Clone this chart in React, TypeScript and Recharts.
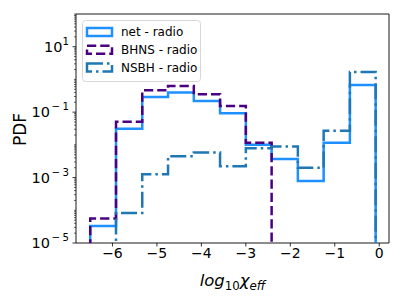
import { LineChart, Line, XAxis, YAxis, ReferenceArea } from "recharts";

// bin edges of the step histograms (log10 chi_eff)
const binEdges = [-6.5, -5.92, -5.33, -4.75, -4.17, -3.58, -3.0, -2.42, -1.83, -1.25, -0.66, -0.08];

// PDF per bin
const netRadio = [3.3e-5, 0.031, 0.29, 0.4, 0.22, 0.093, 0.01, 0.0037, 7.8e-4, 0.0115, 0.68];
const bhnsRadio = [5.6e-5, 0.051, 0.47, 0.63, 0.35, 0.155, 0.0115, 0, 0, 0, 0];
const nsbhRadio = [0, 8.3e-5, 0.00126, 0.0045, 0.0058, 0.0022, 0.0079, 0.0089, 0.002, 0.027, 1.7];

const xTicks = [-6, -5, -4, -3, -2, -1, 0];
const yMajor = [1e-5, 1e-3, 1e-1, 10];
const yMajorExp = ["5", "3", "1", "1"];
const yMajorNeg = [true, true, true, false];

const seriesNames = ["net - radio", "BHNS - radio", "NSBH - radio"];
const colors = ["#1E90FF", "#4B0082", "#1f77b4"];
const dashes = [undefined, "9.25 4", "16 4 2.5 4"];

const FONT = "DejaVu Sans, sans-serif";
const FLOOR = 1e-8; // empty bins sit below the axis and get clipped

const stepPoints = (values: number[]) => {
  const pts = [{ x: binEdges[0], y: FLOOR }];
  values.forEach((v, i) => pts.push({ x: binEdges[i], y: v > 0 ? v : FLOOR }));
  const last = values[values.length - 1];
  const end = binEdges[binEdges.length - 1];
  pts.push({ x: end, y: last > 0 ? last : FLOOR });
  pts.push({ x: end, y: FLOOR });
  return pts;
};

const series = [netRadio, bhnsRadio, nsbhRadio].map(stepPoints);

// minor log ticks 1..9 x 10^k
const yTicks: number[] = [];
for (let k = -5; k <= 1; k++) {
  for (let m = 1; m <= 9; m++) yTicks.push(m * Math.pow(10, k));
}
yTicks.push(100);

const YTick = (props: any) => {
  const { x, y, payload } = props;
  const v = payload.value;
  const idx = yMajor.findIndex((m) => Math.abs(Math.log10(m) - Math.log10(v)) < 1e-6);
  const major = idx >= 0;
  const len = major ? 3.5 : 2;
  return (
    <g>
      <line x1={x - len} x2={x} y1={y} y2={y} stroke="#000" strokeWidth={major ? 0.8 : 0.6} />
      {major && (
        <text x={x - 7} y={y + 5} textAnchor="end" fontFamily={FONT} fontSize={14.5} fill="#000">
          10
          {yMajorNeg[idx] ? (
            <>
              <tspan dy={-7} dx={1.5} fontSize={10.2}>
                −
              </tspan>
              <tspan dx={2.5} fontSize={10.2}>
                {yMajorExp[idx]}
              </tspan>
            </>
          ) : (
            <tspan dy={-7} fontSize={10.2}>
              {yMajorExp[idx]}
            </tspan>
          )}
        </text>
      )}
    </g>
  );
};

const LegendBox = () => (
  <svg width={120} height={63} style={{ position: "absolute", left: 82, top: 20 }}>
    <rect x={0.5} y={0.5} width={118} height={61} rx={3} fill="#fff" fillOpacity={0.8} stroke="#d6d6d6" />
    {seriesNames.map((name, i) => {
      const cy = 12 + i * 17.8;
      return (
        <g key={name}>
          <rect
            x={5}
            y={cy - 4}
            width={25}
            height={8}
            fill="none"
            stroke={colors[i]}
            strokeWidth={2.5}
            strokeDasharray={dashes[i]}
          />
          <text x={39} y={cy + 4.3} fontFamily={FONT} fontSize={12} fill="#000">
            {name}
          </text>
        </g>
      );
    })}
  </svg>
);

export default function App() {
  return (
    <div style={{ position: "relative", width: 403, height: 302, background: "#fff" }}>
      <style>{`body{margin:0}`}</style>
      <LineChart width={403} height={302} margin={{ top: 14, right: 14, left: 0, bottom: 0 }}>
        <XAxis
          dataKey="x"
          type="number"
          domain={[-6.82, 0.22]}
          allowDataOverflow
          ticks={xTicks}
          interval={0}
          height={59}
          axisLine={false}
          tickSize={3.5}
          tickMargin={2}
          tickLine={{ stroke: "#000", strokeWidth: 0.8 }}
          tick={{ fontFamily: FONT, fontSize: 14, fill: "#000" }}
          tickFormatter={(v: number) => (v < 0 ? "−" + Math.abs(v) : String(v))}
          label={{
            content: () => (
              <text x={232.5} y={286} textAnchor="middle" fontFamily={FONT} fontSize={16.5} fill="#000">
                <tspan fontStyle="italic">log</tspan>
                <tspan dy={4} fontSize={11.8}>
                  10
                </tspan>
                <tspan dy={-4} fontStyle="italic">
                  χ
                </tspan>
                <tspan dy={4} fontSize={11.8} fontStyle="italic">
                  eff
                </tspan>
              </text>
            ),
          }}
        />
        <YAxis
          dataKey="y"
          scale="log"
          domain={[1e-5, 100]}
          allowDataOverflow
          ticks={yTicks}
          interval={0}
          width={76}
          axisLine={false}
          tickLine={false}
          tickSize={0}
          tickMargin={0}
          tick={<YTick />}
          label={{
            content: () => (
              <text
                x={20}
                y={129.5}
                transform="rotate(-90 20 129.5)"
                textAnchor="middle"
                dominantBaseline="central"
                fontFamily={FONT}
                fontSize={17}
                fill="#000"
              >
                PDF
              </text>
            ),
          }}
        />
        {series.map((pts, i) => (
          <Line
            key={seriesNames[i]}
            data={pts}
            dataKey="y"
            type="stepAfter"
            stroke={colors[i]}
            strokeWidth={2.5}
            strokeDasharray={dashes[i]}
            dot={false}
            activeDot={false}
            isAnimationActive={false}
          />
        ))}
        <ReferenceArea
          x1={-6.82}
          x2={0.22}
          y1={1e-5}
          y2={100}
          fill="none"
          stroke="#000"
          strokeWidth={0.9}
          ifOverflow="visible"
        />
      </LineChart>
      <LegendBox />
    </div>
  );
}
